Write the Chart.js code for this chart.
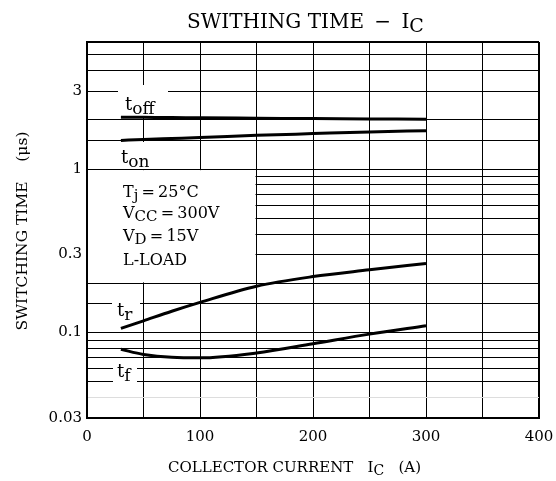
<!DOCTYPE html>
<html>
<head>
<meta charset="utf-8">
<script src="https://cdn.jsdelivr.net/npm/chart.js@4/dist/chart.umd.min.js"></script>
<style>
  html, body { margin: 0; padding: 0; background: #fff; }
  #wrap { width: 556px; height: 481px; }
</style>
</head>
<body>
<div id="wrap"><canvas id="swChart"></canvas></div>
<script>
// collector current (A)
const currents = [30, 50, 75, 100, 150, 200, 250, 300];
// switching times (us)
const tOff = [2.08, 2.075, 2.07, 2.06, 2.05, 2.04, 2.03, 2.02];
const tOn  = [1.50, 1.52, 1.54, 1.56, 1.61, 1.65, 1.69, 1.72];
const tR   = [0.106, 0.118, 0.135, 0.153, 0.192, 0.220, 0.242, 0.265];
const tF   = [0.079, 0.0735, 0.0705, 0.070, 0.075, 0.0855, 0.0978, 0.110];

const yTickLabels = [0.03, 0.1, 0.3, 1, 3];
const xTickLabels = [0, 100, 200, 300, 400];

const SERIF = '"DejaVu Serif", serif';

function pts(ys) {
    return currents.map((x, i) => ({ x: x, y: ys[i] }));
}

// text with a subscript part
function subText(ctx, x, y, main, sub, size, rest) {
    ctx.font = size + 'px ' + SERIF;
    ctx.fillText(main, x, y);
    let w = ctx.measureText(main).width;
    ctx.font = Math.round(size * 0.95) + 'px ' + SERIF;
    ctx.fillText(sub, x + w, y + size * 0.2);
    w += ctx.measureText(sub).width;
    if (rest) {
        ctx.font = size + 'px ' + SERIF;
        ctx.fillText(rest, x + w, y);
        w += ctx.measureText(rest).width;
    }
    return w;
}

const textPlugin = {
    id: 'texts',
    beforeDatasetsDraw(chart) {
        const ctx = chart.ctx;
        const xs = chart.scales.x, ys = chart.scales.y;
        ctx.save();
        // condition box hides the grid inside its cell
        ctx.fillStyle = '#fff';
        const bx0 = xs.getPixelForValue(0) + 1, bx1 = xs.getPixelForValue(150) - 1;
        const by0 = ys.getPixelForValue(1) + 1, by1 = ys.getPixelForValue(0.2) - 1;
        ctx.fillRect(bx0, by0, bx1 - bx0, by1 - by0);
        // white backgrounds under the curve labels
        ctx.fillRect(118, 85, 50, 32);
        ctx.fillRect(106, 142, 52, 27);
        ctx.fillRect(112, 298, 28, 24);
        ctx.fillRect(113, 361, 24, 26);

        ctx.fillStyle = '#000';
        ctx.textBaseline = 'alphabetic';
        ctx.textAlign = 'left';
        const eq = '\u2009=\u2009';
        subText(ctx, 123, 197, 'T', 'j', 16, eq + '25°C');
        subText(ctx, 123, 218, 'V', 'CC', 16, eq + '300V');
        subText(ctx, 123, 241, 'V', 'D', 16, eq + '15V');
        ctx.font = '16px ' + SERIF;
        ctx.fillText('L-LOAD', 123, 265);

        subText(ctx, 125, 110, 't', 'off', 18);
        subText(ctx, 121, 163, 't', 'on', 18);
        subText(ctx, 117, 316, 't', 'r', 18);
        subText(ctx, 117, 377, 't', 'f', 18);
        ctx.restore();
    },
    afterDraw(chart) {
        const ctx = chart.ctx;
        ctx.save();
        ctx.fillStyle = '#000';
        ctx.textBaseline = 'alphabetic';
        // title
        subText(ctx, 187, 28, 'SWITHING TIME \u2009\u2212\u2009 I', 'C', 20);
        // x axis title
        subText(ctx, 168, 472, 'COLLECTOR CURRENT   I', 'C', 15, '   (A)');
        // y axis title
        ctx.translate(27, 231);
        ctx.rotate(-Math.PI / 2);
        ctx.textAlign = 'center';
        ctx.font = '15.5px ' + SERIF;
        ctx.fillText('SWITCHING TIME    (\u03bcs)', 0, 0);
        ctx.restore();
    }
};

new Chart(document.getElementById('swChart'), {
    type: 'line',
    data: {
        datasets: [
            { label: 't_off', data: pts(tOff) },
            { label: 't_on', data: pts(tOn) },
            { label: 't_r', data: pts(tR) },
            { label: 't_f', data: pts(tF) }
        ]
    },
    options: {
        responsive: true,
        maintainAspectRatio: false,
        animation: false,
        layout: { padding: { top: 42, right: 17, left: 0, bottom: 0 } },
        elements: {
            line: { borderColor: '#000', borderWidth: 3, cubicInterpolationMode: 'monotone' },
            point: { radius: 0 }
        },
        plugins: {
            legend: { display: false },
            tooltip: { enabled: false }
        },
        scales: {
            x: {
                type: 'linear',
                min: 0, max: 400,
                afterFit(s) {
                    s.height = 63;
                    s.paddingLeft = 0;
                    s.paddingRight = 0;
                },
                border: { display: true, color: '#000', width: 2 },
                grid: {
                    color: '#000',
                    lineWidth: c => (c.tick && c.tick.value === 400) ? 2 : 1,
                    drawTicks: false
                },
                ticks: {
                    stepSize: 50,
                    padding: 10,
                    color: '#000',
                    maxRotation: 0,
                    autoSkip: false,
                    font: { family: SERIF, size: 15 },
                    callback: v => xTickLabels.includes(v) ? String(v) : ''
                }
            },
            y: {
                type: 'logarithmic',
                min: 0.03, max: 6,
                afterFit(s) {
                    s.width = 87;
                    s.paddingTop = 0;
                    s.paddingBottom = 0;
                },
                border: { display: true, color: '#000', width: 2 },
                grid: {
                    color: c => (c.tick && Math.abs(c.tick.value - 0.04) < 1e-6) ? '#ddd' : '#000',
                    lineWidth: c => (c.tick && c.tick.value === 6) ? 2 : 1,
                    drawTicks: false
                },
                ticks: {
                    padding: 5,
                    color: '#000',
                    autoSkip: false,
                    font: { family: SERIF, size: 15 },
                    callback: v => yTickLabels.some(t => Math.abs(t - v) < 1e-9) ? String(v) : ''
                }
            }
        }
    },
    plugins: [textPlugin]
});
</script>
</body>
</html>
